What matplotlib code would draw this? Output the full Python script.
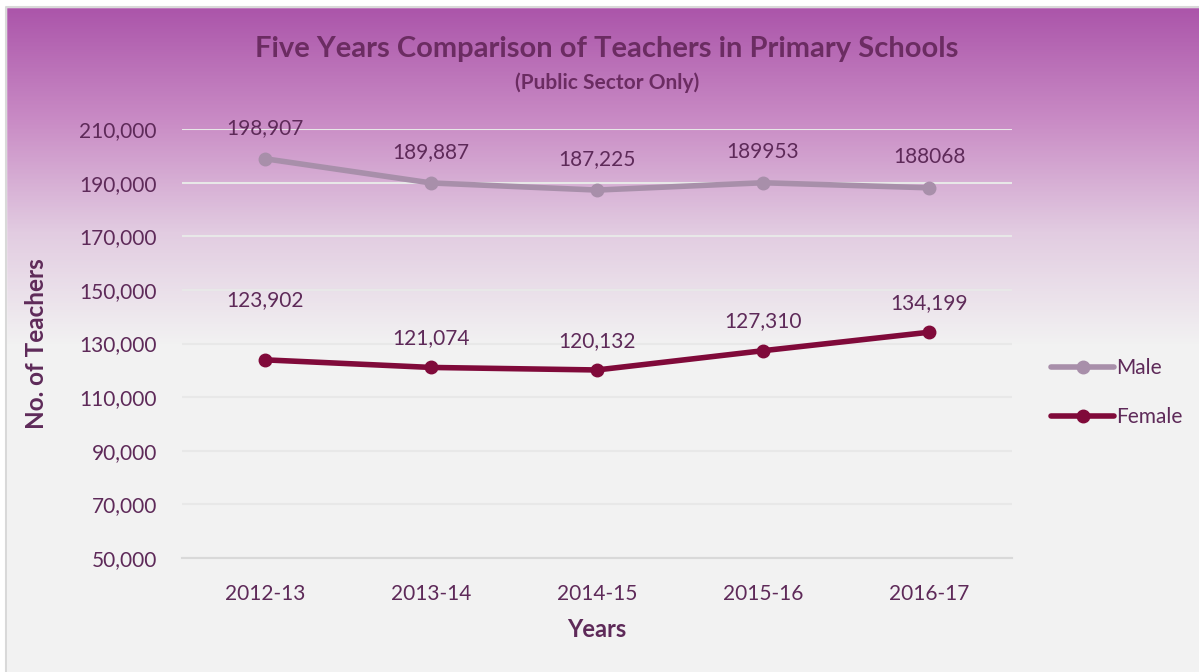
import matplotlib.pyplot as plt
import numpy as np
from matplotlib.colors import LinearSegmentedColormap

years = ['2012-13', '2013-14', '2014-15', '2015-16', '2016-17']
male = [198907, 189887, 187225, 189953, 188068]
female = [123902, 121074, 120132, 127310, 134199]
male_labels = ['198,907', '189,887', '187,225', '189953', '188068']
female_labels = ['123,902', '121,074', '120,132', '127,310', '134,199']

plt.rcParams['font.family'] = ['Lato', 'DejaVu Sans']
txt = '#5E2A59'
male_c = '#A88FAA'
female_c = '#800A3A'

fig = plt.figure(figsize=(11.99, 6.72), dpi=100)

# background gradient behind everything
bg = fig.add_axes([0, 0, 1, 1], zorder=-1)
W, H = 1199, 672
g = np.zeros((H, 1))
top, stop = 7, 345
for r in range(H):
    g[r, 0] = min(max((r - top) / (stop - top), 0), 1)
cmap = LinearSegmentedColormap.from_list('bg', ['#AB55AA', '#C98BC5', '#E2CCE1', '#F2F2F2'])
bg.imshow(g, aspect='auto', cmap=cmap, extent=[0, W, H, 0])
bg.add_patch(plt.Rectangle((0, 0), 6, H, color='white'))
bg.add_patch(plt.Rectangle((0, 0), W, 7, color='white'))
bg.plot([6, 6, W], [H, 7, 7], color='#D9D9D9', lw=1.5)
bg.set_xlim(0, W)
bg.set_ylim(H, 0)
bg.axis('off')

ax = fig.add_axes([182 / W, 1 - 558 / H, (1012 - 182) / W, (558 - 129) / H])
ax.patch.set_alpha(0)
x = np.arange(len(years))
ax.plot(x, male, color=male_c, lw=4, marker='o', ms=9, label='Male', solid_capstyle='round')
ax.plot(x, female, color=female_c, lw=4, marker='o', ms=9, label='Female', solid_capstyle='round')

female_off = [43, 21, 21, 21, 21]
for i in range(len(years)):
    ax.annotate(male_labels[i], (x[i], male[i]), xytext=(0, 22), textcoords='offset points',
                ha='center', va='center', color=txt, fontsize=15)
    ax.annotate(female_labels[i], (x[i], female[i]), xytext=(0, female_off[i]), textcoords='offset points',
                ha='center', va='center', color=txt, fontsize=15)

ax.set_xlim(-0.5, 4.5)
ax.set_ylim(50000, 210000)
ax.set_yticks(range(50000, 210001, 20000))
ax.set_yticklabels([f'{v:,}' for v in range(50000, 210001, 20000)])
ax.set_xticks(x)
ax.set_xticklabels(years)
ax.tick_params(length=0, labelsize=15, labelcolor=txt)
ax.tick_params(axis='x', pad=19)
ax.tick_params(axis='y', pad=18)
ax.grid(axis='y', color='#E8E8E8', lw=1.5)
for s in ['top', 'right', 'left']:
    ax.spines[s].set_visible(False)
ax.spines['bottom'].set_color('#D9D9D9')
ax.spines['bottom'].set_linewidth(1.5)
ax.set_axisbelow(True)

ax.set_xlabel('Years', fontsize=17, fontweight='bold', color=txt, labelpad=10)
ax.set_ylabel('No. of Teachers', fontsize=17.5, fontweight='bold', color=txt, labelpad=23)

fig.text(607 / W, 1 - 49 / H, 'Five Years Comparison of Teachers in Primary Schools',
         ha='center', va='center', fontsize=21, fontweight='bold', color='#6B2C62')
fig.text(607 / W, 1 - 83 / H, '(Public Sector Only)',
         ha='center', va='center', fontsize=15, fontweight='bold', color='#6B2C62')

leg = ax.legend(loc='center left', bbox_to_anchor=(1.025, 0.385), frameon=False, fontsize=15,
                labelcolor=txt, handlelength=3, handletextpad=0.1, labelspacing=1.4)

fig.savefig('out.png', dpi=100)
